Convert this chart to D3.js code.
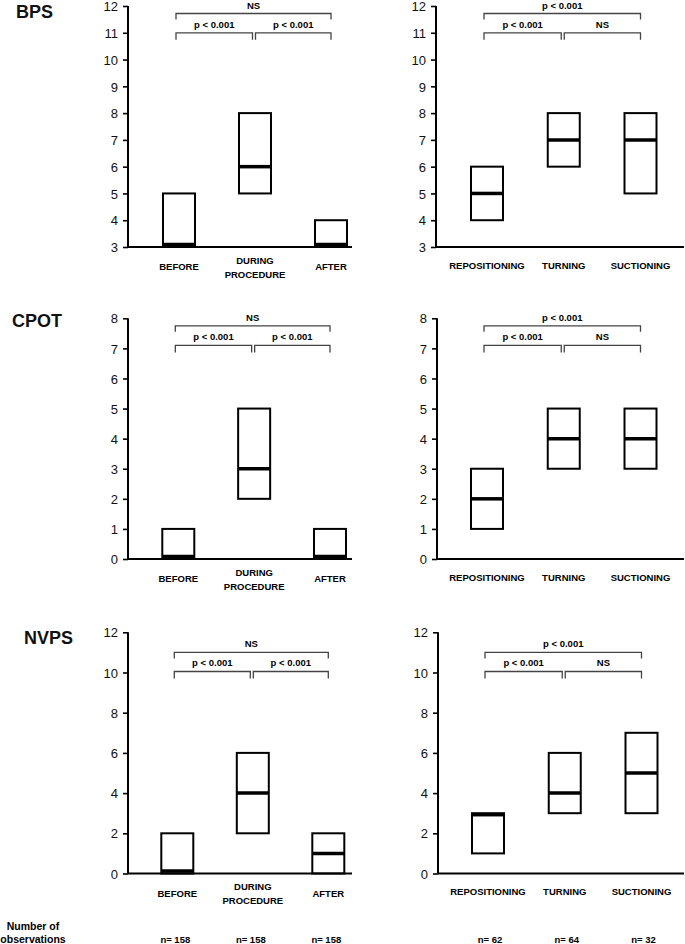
<!DOCTYPE html>
<html><head><meta charset="utf-8">
<script src="https://cdn.jsdelivr.net/npm/d3@7"></script>
<style>body{margin:0;background:#fff} svg{display:block}</style>
</head><body><svg id="c" width="685" height="944"></svg>
<script>
// ---------- DATA ----------
const scaleNames = ["BPS", "CPOT", "NVPS"];
const procedureCategories = [["BEFORE"], ["DURING", "PROCEDURE"], ["AFTER"]];
const typeCategories = [["REPOSITIONING"], ["TURNING"], ["SUCTIONING"]];
// each entry: [q1, median, q3]
const bpsProcedure = [[3, 3, 5], [5, 6, 8], [3, 3, 4]];
const bpsType = [[4, 5, 6], [6, 7, 8], [5, 7, 8]];
const cpotProcedure = [[0, 0, 1], [2, 3, 5], [0, 0, 1]];
const cpotType = [[1, 2, 3], [3, 4, 5], [3, 4, 5]];
const nvpsProcedure = [[0, 0, 2], [2, 4, 6], [0, 1, 2]];
const nvpsType = [[1, 3, 3], [3, 4, 6], [3, 5, 7]];
const bpsTicks = [3, 4, 5, 6, 7, 8, 9, 10, 11, 12];
const cpotTicks = [0, 1, 2, 3, 4, 5, 6, 7, 8];
const nvpsTicks = [0, 2, 4, 6, 8, 10, 12];
// bracket levels (data units): [pairwise, overall]
const bpsBrackets = [11, 11.72];
const cpotBrackets = [7.1, 7.75];
const nvpsBrackets = [10.05, 11];
// test labels: [first vs second, second vs third, first vs third]
const procedureTests = ["p < 0.001", "p < 0.001", "NS"];
const typeTests = ["p < 0.001", "NS", "p < 0.001"];
const procedureN = ["n= 158", "n= 158", "n= 158"];
const typeN = ["n= 62", "n= 64", "n= 32"];
const obsLabel = ["Number of", "observations"];

// ---------- LAYOUT ----------
const svg = d3.select("#c");
const FONT = "'Liberation Sans', Arial, Helvetica, sans-serif";
const rows = [
  {name: scaleNames[0], top: 6, bottom: 247, tx: 16, ty: 18, ticks: bpsTicks, br: bpsBrackets,
   left: {data: bpsProcedure, ax: 128, c0: 179, c2: 331}, right: {data: bpsType, ax: 436, c0: 487, c2: 640.5}},
  {name: scaleNames[1], top: 318.3, bottom: 559, tx: 12, ty: 327, ticks: cpotTicks, br: cpotBrackets,
   left: {data: cpotProcedure, ax: 128, c0: 178.3, c2: 330}, right: {data: cpotType, ax: 437, c0: 487, c2: 640.5}},
  {name: scaleNames[2], top: 632.3, bottom: 873.5, tx: 24, ty: 644, ticks: nvpsTicks, br: nvpsBrackets,
   left: {data: nvpsProcedure, ax: 128, c0: 177.3, c2: 328.3}, right: {data: nvpsType, ax: 438, c0: 488, c2: 641.5}}
];
const leftEnd = 352, rightEnd = 684, boxW = 32;

function drawPanel(row, p, cats, tests, isLeft) {
  const g = svg.append("g");
  const ticks = row.ticks;
  const y = d3.scaleLinear().domain([ticks[0], ticks[ticks.length - 1]]).range([row.bottom, row.top]);
  const x = d3.scalePoint().domain(d3.range(cats.length)).range([p.c0, p.c2]);

  // boxes
  p.data.forEach((d, i) => {
    const [q1, med, q3] = d;
    g.append("rect")
      .attr("x", x(i) - boxW / 2).attr("width", boxW)
      .attr("y", y(q3)).attr("height", y(q1) - y(q3))
      .attr("fill", "#fff").attr("stroke", "#000").attr("stroke-width", 2);
    const my = Math.max(y(q3) + 1.5, Math.min(y(med), y(q1) - 2.5));
    g.append("line")
      .attr("x1", x(i) - boxW / 2).attr("x2", x(i) + boxW / 2)
      .attr("y1", my).attr("y2", my)
      .attr("stroke", "#000").attr("stroke-width", 3.5);
  });

  // y axis
  const yAxis = d3.axisLeft(y).tickValues(ticks).tickSize(5).tickPadding(5).tickFormat(d3.format("d"));
  const ya = g.append("g").attr("transform", `translate(${p.ax},0)`).call(yAxis);
  ya.select(".domain").remove();
  ya.selectAll(".tick line").attr("stroke", "#000").attr("stroke-width", 1.6);
  ya.selectAll(".tick text").attr("font-family", FONT).attr("font-size", 13)
    .attr("fill", "#111").attr("dy", "0.36em");
  g.append("line").attr("x1", p.ax).attr("x2", p.ax).attr("y1", row.top).attr("y2", row.bottom)
    .attr("stroke", "#000").attr("stroke-width", 2);
  // x axis line
  g.append("line").attr("x1", p.ax).attr("x2", isLeft ? leftEnd : rightEnd)
    .attr("y1", row.bottom).attr("y2", row.bottom).attr("stroke", "#000").attr("stroke-width", 2);

  // category labels
  cats.forEach((lines, i) => {
    const t = g.append("text").attr("x", x(i)).attr("text-anchor", "middle")
      .attr("font-family", FONT).attr("font-weight", "bold").attr("font-size", 9.5).attr("fill", "#000");
    if (lines.length === 1) {
      t.attr("y", row.bottom + (isLeft ? 23 : 21.5)).text(lines[0]);
    } else {
      lines.forEach((l, k) => t.append("tspan").attr("x", x(i)).attr("y", row.bottom + 16.5 + k * 14).text(l));
    }
  });

  // brackets
  const lowY = y(row.br[0]), hiY = y(row.br[1]);
  const b0 = x(0) - 3, b1a = x(1) - 2.5, b1b = x(1) + 0.5, b2 = x(2);
  const bracket = (xa, xb, yy, drop) => {
    g.append("path").attr("d", `M${xa},${yy + drop}V${yy}H${xb}V${yy + drop}`)
      .attr("fill", "none").attr("stroke", "#444").attr("stroke-width", 1.3);
  };
  bracket(b0, b1a, lowY, 7);
  bracket(b1b, b2, lowY, 7);
  bracket(b0, b2, hiY, 6);
  const lab = (xx, yy, s) => g.append("text").attr("x", xx).attr("y", yy).attr("text-anchor", "middle")
    .attr("font-family", FONT).attr("font-weight", "bold").attr("font-size", 9.5).attr("fill", "#000").text(s);
  lab((b0 + b1a) / 2, lowY - 5, tests[0]);
  lab((b1b + b2) / 2, lowY - 5, tests[1]);
  lab((b0 + b2) / 2, hiY - 5, tests[2]);
  return x;
}

let lastX = {};
rows.forEach(row => {
  svg.append("text").attr("x", row.tx).attr("y", row.ty)
    .attr("font-family", FONT).attr("font-weight", "bold").attr("font-size", 18).attr("fill", "#111")
    .text(row.name);
  lastX.left = drawPanel(row, row.left, procedureCategories, procedureTests, true);
  lastX.right = drawPanel(row, row.right, typeCategories, typeTests, false);
});

// number of observations
const nFont = g => g.attr("font-family", FONT).attr("font-weight", "bold").attr("font-size", 9.5).attr("fill", "#000");
svg.append("text").attr("x", 33).attr("y", 930).attr("text-anchor", "middle").call(nFont).attr("font-size", 10.5).text(obsLabel[0]);
svg.append("text").attr("x", 33).attr("y", 942.5).attr("text-anchor", "middle").call(nFont).attr("font-size", 10.5).text(obsLabel[1]);
procedureN.forEach((s, i) => svg.append("text").attr("x", lastX.left(i) - 2).attr("y", 942.5)
  .attr("text-anchor", "middle").call(nFont).text(s));
typeN.forEach((s, i) => svg.append("text").attr("x", lastX.right(i) + 2).attr("y", 942.5)
  .attr("text-anchor", "middle").call(nFont).text(s));
</script>
</body></html>
